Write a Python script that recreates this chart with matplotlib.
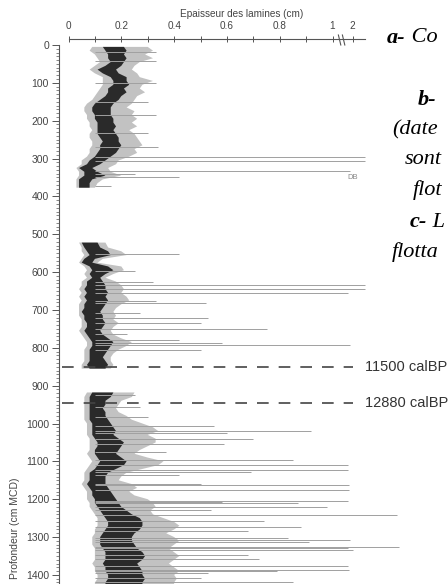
import numpy as np
import matplotlib
matplotlib.use('Agg')
import matplotlib.pyplot as plt
from matplotlib.ticker import FixedLocator, MultipleLocator

# Laminae thickness profile (cm), per 10 cm depth step
# columns: left edge, dark core left, dark core right, grey right edge
depth = [5, 15, 25, 35, 45, 55, 65, 75, 85, 95, 105, 115, 125, 135, 145, 155, 165, 175, 185, 195,
         205, 215, 225, 235, 245, 255, 265, 275, 285, 295, 305, 315, 325, 335, 345, 355, 365, 377,
         450,
         522, 535, 545, 555, 565, 575, 585, 595, 605, 615, 625, 635, 645, 655, 665, 675, 685, 695,
         705, 715, 725, 735, 745, 755, 765, 775, 785, 795, 805, 815, 825, 835, 845, 855,
         890,
         918, 930, 940, 950, 960, 970, 980, 990, 1000, 1010, 1020, 1030, 1040, 1050, 1060, 1070,
         1080, 1090, 1100, 1110, 1120, 1130, 1140, 1150, 1160, 1170, 1180, 1190, 1200, 1210, 1220,
         1230, 1240, 1250, 1260, 1270, 1280, 1290, 1300, 1310, 1320, 1330, 1340, 1350, 1360, 1370,
         1380, 1390, 1400, 1410, 1420, 1430]
lo = [0.09, 0.08, 0.10, 0.11, 0.12, 0.10, 0.08, 0.10, 0.13, 0.13, 0.13, 0.12, 0.11, 0.10, 0.09, 0.07,
      0.06, 0.06, 0.07, 0.07, 0.08, 0.08, 0.09, 0.08, 0.08, 0.09, 0.09, 0.08, 0.08, 0.07, 0.05, 0.05,
      0.03, 0.04, 0.04, 0.03, 0.03, 0.03,
      np.nan,
      0.04, 0.05, 0.05, 0.06, 0.05, 0.04, 0.06, 0.07, 0.06, 0.07, 0.05, 0.05, 0.04, 0.05, 0.04, 0.05,
      0.04, 0.04, 0.04, 0.04, 0.05, 0.05, 0.05, 0.04, 0.05, 0.06, 0.07, 0.07, 0.06, 0.06, 0.06, 0.06,
      0.05, 0.05,
      np.nan,
      0.07, 0.06, 0.06, 0.06, 0.06, 0.06, 0.06, 0.06, 0.07, 0.07, 0.07, 0.07, 0.08, 0.08, 0.08, 0.08,
      0.07, 0.08, 0.09, 0.08, 0.07, 0.06, 0.06, 0.06, 0.05, 0.06, 0.07, 0.07, 0.07, 0.08, 0.08, 0.09,
      0.10, 0.11, 0.11, 0.11, 0.10, 0.10, 0.09, 0.09, 0.09, 0.10, 0.10, 0.10, 0.10, 0.09, 0.10, 0.10,
      0.11, 0.11, 0.10, 0.10]
core_lo = [0.13, 0.14, 0.15, 0.15, 0.16, 0.14, 0.11, 0.13, 0.16, 0.17, 0.17, 0.15, 0.15, 0.14, 0.12,
           0.10, 0.09, 0.09, 0.10, 0.10, 0.11, 0.11, 0.11, 0.11, 0.12, 0.13, 0.12, 0.12, 0.11, 0.10,
           0.08, 0.07, 0.04, 0.06, 0.06, 0.04, 0.04, 0.04,
           np.nan,
           0.05, 0.06, 0.07, 0.08, 0.06, 0.05, 0.08, 0.09, 0.08, 0.09, 0.07, 0.07, 0.06, 0.07, 0.06,
           0.07, 0.06, 0.06, 0.05, 0.06, 0.06, 0.07, 0.07, 0.06, 0.07, 0.08, 0.09, 0.09, 0.08, 0.08,
           0.08, 0.08, 0.07, 0.08,
           np.nan,
           0.09, 0.08, 0.08, 0.08, 0.08, 0.08, 0.08, 0.08, 0.09, 0.09, 0.09, 0.09, 0.10, 0.11, 0.11,
           0.10, 0.10, 0.11, 0.12, 0.11, 0.10, 0.08, 0.08, 0.08, 0.07, 0.08, 0.09, 0.09, 0.10, 0.10,
           0.11, 0.12, 0.13, 0.14, 0.15, 0.15, 0.14, 0.13, 0.12, 0.12, 0.12, 0.13, 0.14, 0.14, 0.14,
           0.13, 0.14, 0.14, 0.15, 0.15, 0.14, 0.14]
core_hi = [0.21, 0.22, 0.21, 0.22, 0.21, 0.20, 0.18, 0.19, 0.22, 0.22, 0.23, 0.21, 0.22, 0.20, 0.19,
           0.17, 0.16, 0.16, 0.16, 0.17, 0.17, 0.18, 0.17, 0.18, 0.19, 0.19, 0.20, 0.19, 0.18, 0.16,
           0.14, 0.12, 0.09, 0.11, 0.14, 0.09, 0.08, 0.08,
           np.nan,
           0.11, 0.12, 0.15, 0.16, 0.10, 0.09, 0.15, 0.17, 0.14, 0.12, 0.13, 0.14, 0.14, 0.15, 0.14,
           0.15, 0.14, 0.13, 0.12, 0.13, 0.13, 0.14, 0.13, 0.12, 0.13, 0.15, 0.17, 0.16, 0.15, 0.14,
           0.13, 0.14, 0.15, 0.14,
           np.nan,
           0.17, 0.16, 0.14, 0.14, 0.13, 0.14, 0.14, 0.15, 0.16, 0.17, 0.18, 0.17, 0.19, 0.21, 0.20,
           0.19, 0.18, 0.20, 0.22, 0.21, 0.18, 0.15, 0.14, 0.14, 0.14, 0.15, 0.16, 0.17, 0.18, 0.19,
           0.20, 0.22, 0.24, 0.27, 0.28, 0.28, 0.27, 0.25, 0.24, 0.24, 0.25, 0.26, 0.28, 0.29, 0.28,
           0.26, 0.27, 0.28, 0.28, 0.29, 0.28, 0.28]
hi = [0.30, 0.32, 0.29, 0.32, 0.27, 0.25, 0.24, 0.26, 0.27, 0.32, 0.28, 0.27, 0.29, 0.26, 0.25, 0.24,
      0.22, 0.25, 0.24, 0.26, 0.24, 0.26, 0.23, 0.25, 0.26, 0.27, 0.28, 0.25, 0.26, 0.23, 0.19, 0.18,
      0.15, 0.16, 0.20, 0.13, 0.11, 0.10,
      np.nan,
      0.14, 0.15, 0.20, 0.22, 0.13, 0.11, 0.20, 0.21, 0.17, 0.14, 0.18, 0.20, 0.21, 0.20, 0.22, 0.23,
      0.20, 0.18, 0.17, 0.18, 0.17, 0.19, 0.17, 0.16, 0.17, 0.20, 0.24, 0.22, 0.19, 0.17, 0.16, 0.16,
      0.17, 0.16,
      np.nan,
      0.25, 0.24, 0.20, 0.19, 0.18, 0.19, 0.22, 0.24, 0.28, 0.32, 0.34, 0.30, 0.33, 0.33, 0.30, 0.27,
      0.25, 0.30, 0.36, 0.34, 0.28, 0.22, 0.20, 0.19, 0.24, 0.26, 0.23, 0.25, 0.30, 0.32, 0.33, 0.31,
      0.32, 0.36, 0.40, 0.42, 0.40, 0.37, 0.40, 0.42, 0.40, 0.38, 0.40, 0.42, 0.40, 0.38, 0.40, 0.42,
      0.40, 0.41, 0.40, 0.40]

# Thick laminae sticking out of the profile (depth cm, thickness cm)
spike_depth = [18, 42, 100, 150, 185, 233, 269, 297, 306, 332, 340, 350, 373,
               552, 598, 625, 634, 645, 654, 676, 681, 709, 722, 735, 751, 764, 779, 787, 793, 806,
               925, 956, 982, 1007, 1019, 1026, 1042, 1053, 1075, 1097, 1110, 1123, 1127, 1136,
               1160, 1162, 1176, 1205, 1207, 1211, 1220, 1229, 1242, 1258, 1273, 1283, 1303, 1308,
               1312, 1325, 1330, 1334, 1347, 1358, 1376, 1387, 1389, 1396, 1409, 1420]
spike_thick = [0.33, 0.33, 0.33, 0.30, 0.33, 0.30, 0.34, 2.6, 2.6, 1.87, 0.25, 0.42, 0.16,
               0.42, 0.25, 0.32, 2.6, 2.6, 1.77, 0.33, 0.52, 0.27, 0.53, 0.50, 0.75, 0.22, 0.42, 0.58,
               1.87, 0.50,
               0.25, 0.27, 0.30, 0.55, 0.92, 0.60, 0.70, 0.59, 0.37, 0.85, 1.75, 1.77, 0.69, 0.42,
               0.50, 1.84, 1.84, 1.75, 0.58, 0.87, 0.98, 0.54, 4.2, 0.74, 0.88, 0.68, 0.83, 1.87,
               0.91, 4.3, 1.77, 2.0, 0.68, 0.72, 1.77, 1.84, 0.79, 0.53, 0.50, 0.85]

ages = ['11500 calBP', '12880 calBP']
age_depth = [852, 947]

major_x = [0, 0.2, 0.4, 0.6, 0.8, 1, 2]
minor_x = [0.1, 0.3, 0.5, 0.7, 0.9]

W, H = 448, 584
fig = plt.figure(figsize=(W / 100, H / 100), dpi=100)
ax = fig.add_axes([68.5 / W, 0, (400 - 68.5) / W, (H - 45) / H])


# broken axis: beyond 1 cm the scale is squeezed
def fwd(x):
    x = np.asarray(x, dtype=float)
    return np.where(x <= 1, x, 1 + (x - 1) * 0.076)


def inv(p):
    p = np.asarray(p, dtype=float)
    return np.where(p <= 1, p, 1 + (p - 1) / 0.076)


ax.set_xscale('function', functions=(fwd, inv))
ax.set_xlim(0, 4.36)
ax.set_ylim(1424, 0)

d = np.array(depth, dtype=float)
ax.fill_betweenx(d, lo, hi, color='#c2c2c2', lw=0)
ax.hlines(spike_depth, 0.1, spike_thick, colors='#a0a0a0', lw=0.7)
ax.fill_betweenx(d, core_lo, core_hi, color='#2a2a2a', lw=0)

for dd, lab in zip(age_depth, ages):
    ax.plot([-0.021, 0.858], [dd, dd], transform=ax.get_yaxis_transform(), clip_on=False,
            color='#444444', lw=1.2, dashes=(7, 6))
    ax.text(0.894, dd, lab, transform=ax.get_yaxis_transform(), va='center', ha='left',
            fontsize=10.5, color='#333333', family='Liberation Sans')
ax.text(2.0, 351, 'DB', fontsize=5.5, color='#888888', ha='center', va='center',
        family='Liberation Sans')

gray = '#555555'
for s in ['right', 'bottom']:
    ax.spines[s].set_visible(False)
ax.spines['left'].set_position(('outward', 7))
ax.spines['left'].set_bounds(0, 1424)
ax.spines['top'].set_position(('outward', 4.5))
ax.spines['top'].set_bounds(0, 2.62)
for s in ['left', 'top']:
    ax.spines[s].set_color(gray)
    ax.spines[s].set_linewidth(0.8)

ax.xaxis.set_ticks_position('top')
ax.xaxis.set_label_position('top')
ax.xaxis.set_major_locator(FixedLocator(major_x))
ax.xaxis.set_minor_locator(FixedLocator(minor_x))
ax.set_xticklabels(['0', '0.2', '0.4', '0.6', '0.8', '1', '2'])
ax.tick_params(axis='x', which='major', direction='inout', length=5, width=0.7, color=gray,
               labelsize=7.2, labelcolor='#444444', pad=3)
ax.tick_params(axis='x', which='minor', direction='inout', length=4, width=0.7, color=gray)

ax.yaxis.set_major_locator(MultipleLocator(100))
ax.yaxis.set_minor_locator(MultipleLocator(10))
ax.tick_params(axis='y', which='major', direction='out', length=5, width=0.7, color=gray,
               labelsize=7.5, labelcolor='#444444', pad=2)
ax.tick_params(axis='y', which='minor', direction='out', length=2.5, width=0.5, color=gray)
for lbl in ax.get_xticklabels() + ax.get_yticklabels():
    lbl.set_family('Liberation Sans')

# break marks on the thickness axis
for xb in [1.35, 1.55]:
    ax.plot([xb - 0.06, xb + 0.06], [1 + 10 / 539, 1 + 0 / 539], transform=ax.get_xaxis_transform(),
            clip_on=False, color=gray, lw=0.8)

fig.text(241.5 / W, 1 - 14 / H, 'Epaisseur des lamines (cm)', ha='center', va='center',
         fontsize=7.2, color='#444444', family='Liberation Sans')
fig.text(15 / W, 1 - 528 / H, 'Profondeur (cm MCD)', rotation=90, ha='center', va='center',
         fontsize=7.5, color='#444444', family='Liberation Sans')

# cropped caption text on the right of the slide
caption = [(387, 38, [('a-', 'bold'), (' Co', 'normal')]),
           (418, 100, [('b-', 'bold')]),
           (392, 130, [('(date', 'normal')]),
           (405, 160, [('sont', 'normal')]),
           (413, 190, [('flot', 'normal')]),
           (410, 222, [('c-', 'bold'), (' L', 'normal')]),
           (392, 252, [('flotta', 'normal')])]
fig.canvas.draw()
r = fig.canvas.get_renderer()
for x0, y0, parts in caption:
    x = x0
    for txt, wt in parts:
        t = fig.text(x / W, 1 - y0 / H, txt, ha='left', va='center', fontsize=16, style='italic',
                     weight=wt, family='Liberation Serif', color='black')
        x += t.get_window_extent(r).width

fig.savefig('out.png', dpi=100)
